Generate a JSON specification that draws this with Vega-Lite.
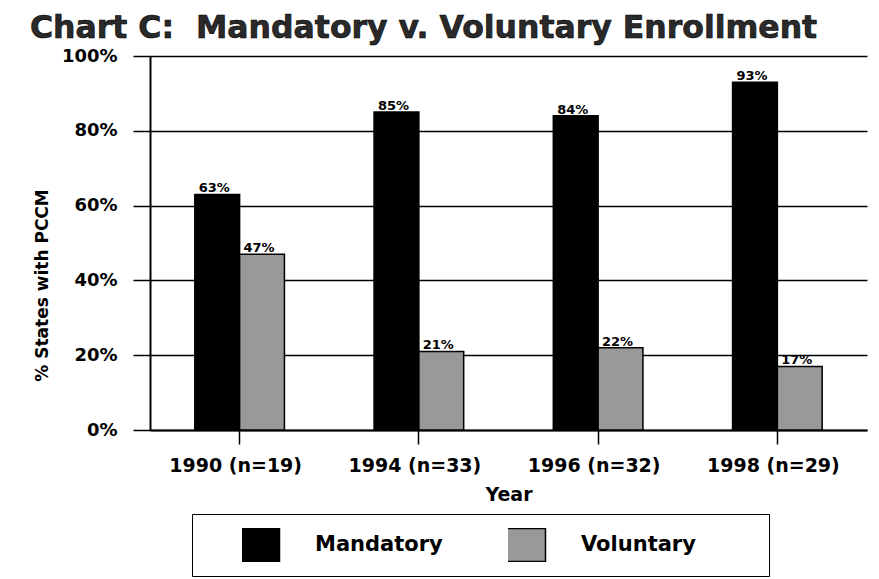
{
  "$schema": "https://vega.github.io/schema/vega-lite/v6.json",
  "width": 717,
  "height": 374,
  "autosize": {"type": "none"},
  "padding": {"left": 150, "top": 56, "right": 12, "bottom": 149},
  "background": "white",
  "title": {
    "text": "Chart C:\u00a0 Mandatory v. Voluntary Enrollment",
    "anchor": "start",
    "frame": "group",
    "dx": -120,
    "dy": 38,
    "offset": 16,
    "baseline": "alphabetic",
    "font": "DejaVu Sans",
    "fontSize": 31.5,
    "fontWeight": "bold",
    "color": "#2a2a2a"
  },
  "config": {
    "view": {"stroke": null},
    "style": {"group-title": {"stroke": "#000000", "strokeWidth": 0.6}}
  },
  "data": {
    "values": [
      {"year": "1990  (n=19)", "type": "Mandatory", "value": 0.63},
      {"year": "1990  (n=19)", "type": "Voluntary", "value": 0.47},
      {"year": "1994  (n=33)", "type": "Mandatory", "value": 0.85},
      {"year": "1994  (n=33)", "type": "Voluntary", "value": 0.21},
      {"year": "1996  (n=32)", "type": "Mandatory", "value": 0.84},
      {"year": "1996  (n=32)", "type": "Voluntary", "value": 0.22},
      {"year": "1998  (n=29)", "type": "Mandatory", "value": 0.93},
      {"year": "1998  (n=29)", "type": "Voluntary", "value": 0.17}
    ]
  },
  "encoding": {
    "x": {
      "field": "year",
      "type": "nominal",
      "sort": null,
      "scale": {"paddingInner": 0.5, "paddingOuter": 0.25},
      "axis": {
        "labelAngle": 0,
        "labelFont": "DejaVu Sans",
        "labelFontSize": 19,
        "labelFontWeight": "bold",
        "labelColor": "black",
        "labelPadding": 12,
        "labelOffset": -4,
        "domainColor": "black",
        "domainWidth": 2,
        "tickColor": "black",
        "tickWidth": 1.5,
        "tickSize": 14,
        "title": "Year",
        "titleFont": "DejaVu Sans",
        "titleFontSize": 19,
        "titleFontWeight": "bold",
        "titleColor": "black",
        "titleY": 70,
        "titleBaseline": "alphabetic"
      }
    },
    "xOffset": {"field": "type", "type": "nominal", "sort": ["Mandatory", "Voluntary"]},
    "y": {
      "field": "value",
      "type": "quantitative",
      "scale": {"domain": [0, 1]},
      "axis": {
        "values": [0, 0.2, 0.4, 0.6, 0.8, 1],
        "format": ".0%",
        "grid": true,
        "gridColor": "black",
        "gridWidth": 1.5,
        "gridOpacity": 1,
        "domainColor": "black",
        "domainWidth": 2,
        "tickColor": "black",
        "tickWidth": 1.5,
        "tickSize": 17,
        "labelPadding": 16,
        "labelFont": "DejaVu Sans",
        "labelFontSize": 18,
        "labelFontWeight": "bold",
        "labelColor": "black",
        "title": "% States with PCCM",
        "titleFont": "DejaVu Sans",
        "titleFontSize": 17,
        "titleFontWeight": "bold",
        "titleColor": "black",
        "titleAngle": 270,
        "titleAlign": "center",
        "titleBaseline": "alphabetic",
        "titleX": -103,
        "titleY": 229
      }
    }
  },
  "layer": [
    {
      "mark": {"type": "bar", "stroke": "black", "strokeWidth": 1.5},
      "encoding": {
        "fill": {
          "field": "type",
          "type": "nominal",
          "scale": {"domain": ["Mandatory", "Voluntary"], "range": ["#000000", "#999999"]},
          "legend": {
            "orient": "none",
            "legendX": 42,
            "legendY": 458,
            "direction": "horizontal",
            "title": " ",
            "titleOrient": "left",
            "titleFontSize": 10,
            "titlePadding": 36,
            "padding": 14,
            "clipHeight": 34,
            "strokeColor": "black",
            "symbolType": "M-1.212,-1H1.212V1H-1.212Z",
            "symbolSize": 1089,
            "symbolStrokeColor": "black",
            "symbolStrokeWidth": 1.5,
            "symbolOpacity": 1,
            "labelFont": "DejaVu Sans",
            "labelFontSize": 21,
            "labelFontWeight": "bold",
            "labelColor": "black",
            "labelOffset": 38,
            "labelLimit": 400,
            "columnPadding": 6,
            "labelExpr": "datum.label + '\u00a0\u00a0\u00a0\u00a0\u00a0\u00a0\u00a0\u00a0\u200b'"
          }
        }
      }
    },
    {
      "mark": {
        "type": "text",
        "baseline": "alphabetic",
        "dy": -2,
        "dx": -3,
        "font": "DejaVu Sans",
        "fontSize": 13,
        "fontWeight": "bold",
        "color": "black"
      },
      "encoding": {
        "text": {"field": "value", "type": "quantitative", "format": ".0%"}
      }
    }
  ]
}
